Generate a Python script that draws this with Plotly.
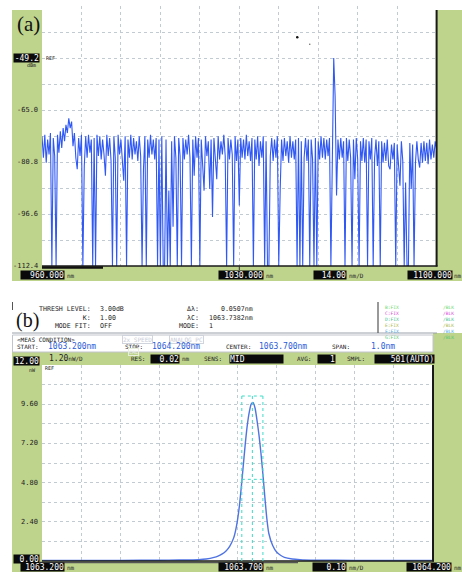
import plotly.graph_objects as go

W, H = 462, 572
def X(px): return px / W
def Y(py): return 1 - py / H

MONO = "DejaVu Sans Mono"
SERIF = "Liberation Serif"
GREEN = "#BED38C"
GRID = "#C3CBD2"
BLUE_A = "#2F58F5"
BLUE_B = "#4F73E3"
CYAN = "#3DDCC8"
NBSP = "\u00a0"

# ---------------- panel (a): broadband OSA trace, 960-1100 nm, 0.5 nm sampling ----------------
a_start_nm = 960.0
a_step_nm = 0.5
a_power_dbm = [
    -73.0, -79.5, -72.5, -81.0, -74.0, -78.5, -72.0, -112.4, -73.5, -79.0,   # 960
    -112.4, -72.5, -78.0, -71.5, -76.5, -70.5, -74.5, -69.5, -72.0, -67.5,   # 965
    -70.5, -68.5, -76.0, -72.0, -79.5, -83.0, -73.5, -79.0, -72.5, -112.4,   # 970
    -82.0, -73.0, -79.5, -72.5, -78.0, -74.0, -112.4, -73.5, -112.4, -72.5,  # 975
    -79.0, -73.0, -80.0, -74.0, -78.5, -85.0, -72.5, -79.0, -73.5, -80.5,    # 980
    -112.4, -73.0, -79.5, -112.4, -72.5, -78.5, -74.0, -80.0, -86.5, -73.0,  # 985
    -112.4, -74.0, -79.5, -72.5, -80.0, -73.5, -78.5, -74.5, -80.5, -73.0,   # 990
    -79.0, -112.4, -83.0, -73.0, -112.4, -74.0, -79.5, -72.5, -78.5, -74.0,  # 995
    -80.0, -73.5, -112.4, -74.0, -112.4, -73.0, -112.4, -112.4, -74.0, -112.4,  # 1000
    -89.5, -112.4, -74.5, -100.5, -73.0, -79.5, -112.4, -73.5, -79.0, -112.4,   # 1005
    -73.5, -80.0, -74.0, -78.5, -72.5, -79.5, -112.4, -74.0, -85.0, -73.0,   # 1010
    -79.5, -73.5, -112.4, -74.0, -83.0, -89.5, -73.0, -79.0, -74.5, -89.0,   # 1015
    -74.0, -97.5, -73.5, -79.5, -86.0, -73.0, -80.0, -74.5, -78.5, -72.5,    # 1020
    -79.0, -112.4, -73.5, -80.0, -74.0, -78.5, -112.4, -73.0, -80.5, -74.0,  # 1025
    -94.0, -73.5, -79.5, -74.0, -80.0, -72.5, -79.0, -74.5, -80.5, -73.5,    # 1030
    -112.4, -74.0, -80.0, -73.0, -82.0, -74.5, -79.5, -73.0, -112.4, -74.5,  # 1035
    -112.4, -112.4, -79.0, -73.5, -80.5, -74.0, -79.5, -73.0, -112.4, -89.5, # 1040
    -74.0, -80.5, -73.5, -79.0, -74.5, -81.0, -73.0, -79.5, -74.5, -80.0,    # 1045
    -74.0, -112.4, -73.5, -112.4, -74.5, -112.4, -79.5, -73.5, -80.5, -74.0, # 1050
    -112.4, -74.0, -80.0, -112.4, -73.5, -112.4, -74.5, -80.0, -73.0, -79.5, # 1055
    -73.5, -80.0, -74.0, -79.0, -73.5, -112.4, -75.0, -49.2, -61.0, -91.0,   # 1060
    -74.0, -80.0, -73.5, -79.5, -74.5, -112.4, -73.5, -80.5, -74.0, -79.5,   # 1065
    -112.4, -74.0, -86.0, -73.5, -80.0, -112.4, -74.5, -80.5, -73.5, -81.0,  # 1070
    -74.0, -112.4, -74.5, -80.0, -73.5, -112.4, -79.5, -74.0, -82.0, -74.5,  # 1075
    -112.4, -74.5, -81.0, -75.0, -80.5, -74.0, -82.0, -83.0, -75.5, -80.0,   # 1080
    -75.0, -112.4, -75.5, -81.0, -88.0, -74.5, -80.5, -112.4, -87.0, -112.4, # 1085
    -112.4, -75.0, -89.0, -75.5, -112.4, -81.0, -74.5, -80.0, -82.5, -75.0,  # 1090
    -81.0, -74.5, -80.5, -75.0, -81.5, -74.0, -80.0, -75.5, -79.5, -74.5,    # 1095
    -77.0,                                                                    # 1100
]
a_wavelength_nm = [a_start_nm + a_step_nm * i for i in range(len(a_power_dbm))]

a_x_range = [960.0, 1100.0]
a_y_range = [-112.4, -33.4]
a_ytick_vals = [-65.0, -80.8, -96.6, -112.4]
a_ytick_text = ["-65.0", "-80.8", "-96.6", "-112.4"]
a_ref_val = -49.2
a_ref_text = "-49.2"

# ---------------- panel (b): zoomed laser line, 1063.2-1064.2 nm ----------------
b_wavelength_nm = [1063.20, 1063.30, 1063.40, 1063.50, 1063.55, 1063.60, 1063.62, 1063.64,
                   1063.65, 1063.66, 1063.67, 1063.68, 1063.69, 1063.695, 1063.70, 1063.705,
                   1063.71, 1063.715, 1063.72, 1063.725, 1063.73, 1063.735, 1063.74, 1063.745,
                   1063.75, 1063.755, 1063.76, 1063.765, 1063.77, 1063.775, 1063.78, 1063.79,
                   1063.80, 1063.81, 1063.82, 1063.84, 1063.86, 1063.90, 1064.00, 1064.10, 1064.20]
b_power_nw = [0.03, 0.04, 0.04, 0.05, 0.06, 0.08, 0.12, 0.22,
              0.30, 0.42, 0.60, 0.90, 1.40, 1.85, 2.50, 3.40,
              4.60, 5.90, 7.20, 8.30, 9.10, 9.60, 9.70, 9.35,
              8.60, 7.70, 6.60, 5.30, 3.90, 2.60, 1.70, 0.95,
              0.55, 0.35, 0.22, 0.12, 0.08, 0.05, 0.04, 0.03, 0.03]
b_x_range = [1063.2, 1064.2]
b_y_range = [0.0, 12.0]
b_ytick_vals = [9.6, 7.2, 4.8, 2.4]
b_ytick_text = ["9.60", "7.20", "4.80", "2.40"]
b_cursor_x = [1063.711, 1063.738, 1063.765]
b_cursor_top = 10.1
b_thresh_level = 5.0

# header readouts of panel (b)
hdr_left_labels = ["THRESH LEVEL:", "K:", "MODE FIT:"]
hdr_left_values = ["3.00dB", "1.00", "OFF"]
hdr_right_labels = ["Δλ:", "λC:", "MODE:"]
hdr_right_values = [NBSP * 3 + "0.0507nm", "1063.7382nm", "1"]

fig = go.Figure()
fig.add_trace(go.Scatter(x=a_wavelength_nm, y=a_power_dbm, mode="lines",
                         line=dict(color=BLUE_A, width=1.1), xaxis="x", yaxis="y",
                         showlegend=False, hoverinfo="skip"))
fig.add_trace(go.Scatter(x=b_wavelength_nm, y=b_power_nw, mode="lines",
                         line=dict(color=BLUE_B, width=1.4, shape="spline", smoothing=0.6),
                         xaxis="x2", yaxis="y2", showlegend=False, hoverinfo="skip"))

ax_common = dict(showgrid=True, gridcolor=GRID, griddash="dot", gridwidth=1,
                 showticklabels=False, zeroline=False, showline=False, ticks="")

shapes = []
def rect(x0, y0, x1, y1, fill, line=None, lw=0):
    shapes.append(dict(type="rect", xref="paper", yref="paper", x0=X(x0), x1=X(x1),
                       y0=Y(y1), y1=Y(y0), fillcolor=fill,
                       line=dict(color=line or fill, width=lw), layer="below"))
def hline(x0, x1, y, color="#111", w=1.5, dash=None):
    shapes.append(dict(type="line", xref="paper", yref="paper", x0=X(x0), x1=X(x1),
                       y0=Y(y), y1=Y(y), line=dict(color=color, width=w, dash=dash)))
def vline(x, y0, y1, color="#111", w=1.5):
    shapes.append(dict(type="line", xref="paper", yref="paper", x0=X(x), x1=X(x),
                       y0=Y(y0), y1=Y(y1), line=dict(color=color, width=w)))

# green frame panel (a)
rect(12, 10, 42, 281, GREEN)
rect(436.6, 10, 462, 281, GREEN)
rect(12, 266, 462, 281, GREEN)
# green frame panel (b)
rect(12, 352, 462, 365, GREEN)
rect(12, 352, 42, 572, GREEN)
rect(433, 333, 462, 572, GREEN)
rect(12, 561, 462, 572, GREEN)
# header box lines panel (b)
hline(12, 437, 333, color="#9AA0A8", w=1)
rect(12.5, 335, 433, 352, "white", line="#C0C4CC", lw=1)
vline(378, 302, 333, color="#555", w=1.2)
vline(12.5, 302, 310, color="#555", w=1)

# plot borders
vline(436.6, 10, 266.5, color="#1A1A1A", w=2)
hline(42, 437.5, 266, color="#1A1A1A", w=1.5)
hline(42, 103, 267.5, color="#111", w=2.5)
vline(239.3, 266, 270, color="#333", w=1)
vline(433, 365, 561.5, color="#1A1A1A", w=2)
hline(42, 434, 561, color="#1A1A1A", w=1.5)
hline(40, 298, 562.5, color="#555", w=1.5)
vline(237.5, 561, 565, color="#333", w=1)

# tiny artefact dots in panel (a)
shapes.append(dict(type="circle", xref="paper", yref="paper", x0=X(296), x1=X(298.5),
                   y0=Y(38.5), y1=Y(36), fillcolor="#111", line=dict(width=0)))
shapes.append(dict(type="circle", xref="paper", yref="paper", x0=X(309), x1=X(310.5),
                   y0=Y(45), y1=Y(43.5), fillcolor="#666", line=dict(width=0)))

# cursor (threshold) markers panel (b)
for cx in b_cursor_x:
    shapes.append(dict(type="line", xref="x2", yref="y2", x0=cx, x1=cx, y0=0, y1=b_cursor_top,
                       line=dict(color=CYAN, width=1, dash="dot")))
shapes.append(dict(type="line", xref="x2", yref="y2", x0=b_cursor_x[0], x1=b_cursor_x[-1],
                   y0=b_cursor_top, y1=b_cursor_top, line=dict(color=CYAN, width=1, dash="dot")))
shapes.append(dict(type="line", xref="x2", yref="y2", x0=b_cursor_x[0], x1=b_cursor_x[-1],
                   y0=b_thresh_level, y1=b_thresh_level, line=dict(color=CYAN, width=1, dash="dot")))

ann = []
def lab(x, y, text, size=7, color="#222", anchor="left", font=MONO, yref="paper", xref="paper"):
    ann.append(dict(x=X(x) if xref == "paper" else x, y=Y(y) if yref == "paper" else y,
                    xref=xref, yref=yref, text=text, showarrow=False, xanchor=anchor,
                    yanchor="middle", font=dict(family=font, size=size, color=color)))
def box(x, y, w, text, size=8, align="right", yref="paper"):
    ann.append(dict(x=X(x), y=Y(y) if yref == "paper" else y, xref="paper", yref=yref,
                    text=text, showarrow=False, xanchor="left", yanchor="middle",
                    width=w, height=8, align=align, bgcolor="#0A0A0A", borderpad=0,
                    font=dict(family=MONO, size=size, color="white")))
def block(x, ytop, lines, anchor, align, size=6.6, color="#222"):
    ann.append(dict(x=X(x), y=Y(ytop), xref="paper", yref="paper", text="<br>".join(lines),
                    showarrow=False, xanchor=anchor, yanchor="top", align=align, borderpad=0,
                    font=dict(family=MONO, size=size, color=color)))

# ---- panel (a) text
lab(15, 24, "(a)", size=21, color="#111", font=SERIF)
box(13, a_ref_val, 25, a_ref_text, yref="y")
lab(38, 65, "dBm", size=5, anchor="right")
lab(44, a_ref_val, "REF", size=5, yref="y")
for v, t in zip(a_ytick_vals, a_ytick_text):
    lab(39.5, v, t, size=7, anchor="right", yref="y")
box(20, 275, 43, "960.000")
lab(65, 275.5, "nm", size=6)
box(218, 275, 44, "1030.000")
lab(264, 275.5, "nm", size=6)
box(313, 275, 32, "14.00")
lab(347, 275.5, "nm/D", size=6)
box(407, 275, 44, "1100.000")
lab(452, 275.5, "nm", size=6)

# ---- panel (b) header
lab(14, 320, "(b)", size=20, color="#111", font=SERIF)
block(92, 303.5, hdr_left_labels, "right", "right")
block(99, 303.5, hdr_left_values, "left", "left")
block(200, 303.5, hdr_right_labels, "right", "right")
block(208, 303.5, hdr_right_values, "left", "left")

fix_rows = ["B:FIX", "C:FIX", "D:FIX", "E:FIX", "F:FIX", "G:FIX"]
blk_rows = ["/BLK", "/BLK", "/BLK", "/BLK", "/BLK", "/BLK"]
row_colors = ["#6CD86C", "#D84CD8", "#3FBF8F", "#A9B84A", "#4AA8E8", "#55C870"]
fix_text = "<br>".join(f"<span style='color:{c}'>{f}</span>" for f, c in zip(fix_rows, row_colors))
blk_text = "<br>".join(f"<span style='color:{c}'>{b}</span>" for b, c in zip(blk_rows, row_colors))
for xx, txt in ((383, fix_text), (441, blk_text)):
    ann.append(dict(x=X(xx), y=Y(302.5), xref="paper", yref="paper", text=txt, showarrow=False,
                    xanchor="left", yanchor="top", align="left",
                    font=dict(family=MONO, size=4.6, color="#888")))

lab(15, 339, "&lt;MEAS CONDITION&gt;", size=6)
lab(15, 346.5, "START:", size=6)
lab(46, 346.5, "1063.200nm", size=8, color="#2A5BD8")
ann.append(dict(x=X(122), y=Y(339), xref="paper", yref="paper", text="2x SPEED", showarrow=False,
                xanchor="left", yanchor="middle", bordercolor="#D0D4DC", borderwidth=1, borderpad=0,
                font=dict(family=MONO, size=6, color="#C8CCD6")))
ann.append(dict(x=X(169), y=Y(339), xref="paper", yref="paper", text="ANALOG PC", showarrow=False,
                xanchor="left", yanchor="middle", bordercolor="#D0D4DC", borderwidth=1, borderpad=0,
                font=dict(family=MONO, size=6, color="#C8CCD6")))
lab(123, 346.5, "STOP:", size=6)
lab(150, 346.5, "1064.200nm", size=8, color="#2A5BD8")
lab(224, 346.5, "CENTER:", size=6)
lab(257, 346.5, "1063.700nm", size=8, color="#2A5BD8")
lab(330, 346.5, "SPAN:", size=6)
lab(369, 346.5, "1.0nm", size=8, color="#2A5BD8")

# green bar row
lab(47, 358.5, "1.20<span style='font-size:6px'>nW/D</span>", size=8)
ann.append(dict(x=X(128), y=Y(351.5), xref="paper", yref="paper", text="CAL", showarrow=False,
                xanchor="left", yanchor="middle", bordercolor="#E8EEDC", borderwidth=1, borderpad=0,
                font=dict(family=MONO, size=5, color="#EEF2E4")))
lab(129, 358.5, "RES:", size=6)
box(150, 358.5, 28, "0.02")
lab(180, 358.5, "nm", size=6)
lab(202, 358.5, "SENS:", size=6)
box(229, 358.5, 53, "MID", align="left")
lab(295, 358.5, "AVG:", size=6)
box(317, 358.5, 17, "1")
lab(345, 358.5, "SMPL:", size=6)
box(374, 358.5, 59, "501(AUTO)")

# panel (b) axis text
box(13, 361, 25, "12.00")
lab(38, 369.5, "nW", size=5, anchor="right")
lab(43, 368, "REF", size=5)
for v, t in zip(b_ytick_vals, b_ytick_text):
    lab(39.5, v, t, size=7, anchor="right", yref="y2")
box(13, 559, 25, "0.00")
box(20, 567, 43, "1063.200")
lab(65, 567.5, "nm", size=6)
box(218, 567, 44, "1063.700")
lab(264, 567.5, "nm", size=6)
box(312, 567, 33, "0.10")
lab(347, 567.5, "nm/D", size=6)
box(406, 567, 44, "1064.200")
lab(452, 567.5, "nm", size=6)

fig.update_layout(
    width=W, height=H, margin=dict(l=0, r=0, t=0, b=0),
    paper_bgcolor="white", plot_bgcolor="white", showlegend=False,
    xaxis=dict(domain=[X(42), X(436.6)], range=a_x_range, tick0=960, dtick=14, anchor="y", **ax_common),
    yaxis=dict(domain=[Y(266), Y(6)], range=a_y_range, tick0=-112.4, dtick=7.9, anchor="x", **ax_common),
    xaxis2=dict(domain=[X(42), X(433)], range=b_x_range, tick0=1063.2, dtick=0.1, anchor="y2", **ax_common),
    yaxis2=dict(domain=[Y(561), Y(365)], range=b_y_range, tick0=0, dtick=1.2, anchor="x2", **ax_common),
    shapes=shapes, annotations=ann,
)
fig.write_html("out.html")
